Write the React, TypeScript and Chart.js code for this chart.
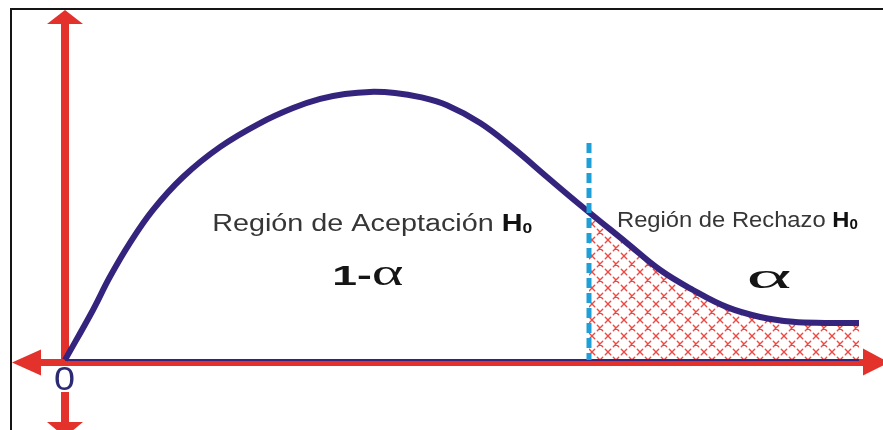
import { useEffect, useRef } from "react";
import { Chart, registerables } from "chart.js";

Chart.register(...registerables);

// ---- data ----
const curveX = [0, 3.5, 5.6, 8.1, 11, 14.75, 19.4, 24.4, 28.5, 31.9, 35, 38.1, 41.25, 44.4, 47.75, 51.9, 56, 60.25, 64.4, 70.25, 74.4, 78.5, 82.75, 86.9, 91, 95, 99.25];
const curveY = [0, 14.3, 23.7, 33.4, 42.9, 52.3, 60.9, 67.7, 72, 74.6, 76, 76.6, 76.3, 75.1, 72.8, 67.7, 60.6, 52.3, 44.3, 33.4, 25.7, 20, 15.1, 12.3, 10.9, 10.6, 10.6];
const criticalX = 65.5;
const criticalY = 42.1;
const criticalTop = 62;
const baselineEnd = 99.25;

const acceptLabel = "Región de Aceptación ";
const rejectLabel = "Región de Rechazo ";
const hypothesis = "H";
const hypothesisSub = "0";
const acceptProb = "1-";
const alphaSymbol = "α";
const originLabel = "0";

// ---- styles ----
const RED = "#e3312b";
const PURPLE = "#35247d";
const BLUE = "#1e9fd8";
const TEXT = "#363636";
const SANS = "'Liberation Sans', Arial, sans-serif";
const SERIF = "'Liberation Serif', 'Times New Roman', serif";

type Part = { text: string; font: string; color: string; dy?: number };

function drawFitted(ctx: CanvasRenderingContext2D, parts: Part[], left: number, right: number, baseline: number) {
  let total = 0;
  for (const p of parts) {
    ctx.font = p.font;
    total += ctx.measureText(p.text).width;
  }
  const sx = (right - left) / total;
  ctx.save();
  ctx.translate(left, baseline);
  ctx.scale(sx, 1);
  ctx.textAlign = "left";
  ctx.textBaseline = "alphabetic";
  let x = 0;
  for (const p of parts) {
    ctx.font = p.font;
    ctx.fillStyle = p.color;
    ctx.fillText(p.text, x, p.dy || 0);
    x += ctx.measureText(p.text).width;
  }
  ctx.restore();
}

function makeHatch(): CanvasPattern | string {
  const c = document.createElement("canvas");
  const s = 16;
  c.width = s;
  c.height = s;
  const g = c.getContext("2d");
  if (!g) return "rgba(230,60,50,0.3)";
  g.strokeStyle = "#ea4a42";
  g.lineWidth = 1.4;
  g.lineCap = "round";
  const a = 2.7;
  const mark = (cx: number, cy: number) => {
    g.beginPath();
    g.moveTo(cx - a, cy - a);
    g.lineTo(cx + a, cy + a);
    g.moveTo(cx + a, cy - a);
    g.lineTo(cx - a, cy + a);
    g.stroke();
  };
  mark(s / 2, s / 2);
  mark(0, 0);
  mark(s, 0);
  mark(0, s);
  mark(s, s);
  return g.createPattern(c, "repeat") || "rgba(230,60,50,0.3)";
}

const frameAndAxes = {
  id: "frameAndAxes",
  beforeDraw(chart: any) {
    const ctx = chart.ctx as CanvasRenderingContext2D;
    ctx.save();
    ctx.fillStyle = "#ffffff";
    ctx.fillRect(0, 0, chart.width, chart.height);
    ctx.restore();
  },
  beforeDatasetsDraw(chart: any) {
    const ctx = chart.ctx as CanvasRenderingContext2D;
    const xs = chart.scales.x;
    const ys = chart.scales.y;
    const ox = xs.getPixelForValue(0);
    const oy = ys.getPixelForValue(0) + 2.5;
    ctx.save();
    // frame
    ctx.strokeStyle = "#151515";
    ctx.lineWidth = 2;
    ctx.beginPath();
    ctx.moveTo(11, chart.height + 2);
    ctx.lineTo(11, 9);
    ctx.lineTo(chart.width + 2, 9);
    ctx.stroke();

    ctx.fillStyle = RED;
    // vertical shaft
    ctx.fillRect(ox - 4, 22, 8, 402);
    // up arrow
    ctx.beginPath();
    ctx.moveTo(ox, 10);
    ctx.lineTo(ox - 18, 24);
    ctx.lineTo(ox + 18, 24);
    ctx.closePath();
    ctx.fill();
    // down arrow
    ctx.beginPath();
    ctx.moveTo(ox - 18, 422);
    ctx.lineTo(ox + 18, 422);
    ctx.lineTo(ox, 437);
    ctx.closePath();
    ctx.fill();
    // horizontal shaft
    ctx.fillRect(38, oy - 3.5, 828, 7);
    // left arrow
    ctx.beginPath();
    ctx.moveTo(12, oy);
    ctx.lineTo(41, oy - 13);
    ctx.lineTo(41, oy + 13);
    ctx.closePath();
    ctx.fill();
    // right arrow
    ctx.beginPath();
    ctx.moveTo(863, oy - 14);
    ctx.lineTo(863, oy + 13);
    ctx.lineTo(889, oy);
    ctx.closePath();
    ctx.fill();
    ctx.restore();
  },
  afterDraw(chart: any) {
    const ctx = chart.ctx as CanvasRenderingContext2D;
    const xs = chart.scales.x;
    const ys = chart.scales.y;
    const px = (v: number) => xs.getPixelForValue(v);
    const py = (v: number) => ys.getPixelForValue(v);
    const ox = px(0);
    const oy = py(0);

    // origin label with white knock-out
    ctx.save();
    ctx.fillStyle = "#ffffff";
    ctx.fillRect(ox - 13, oy + 6, 27, 26);
    ctx.restore();
    drawFitted(ctx, [{ text: originLabel, font: `34px ${SANS}`, color: "#2c2a72" }], ox - 11, ox + 10, oy + 30);

    drawFitted(
      ctx,
      [
        { text: acceptLabel, font: `23px ${SANS}`, color: TEXT },
        { text: hypothesis, font: `bold 23px ${SANS}`, color: "#111" },
        { text: hypothesisSub, font: `bold 14px ${SANS}`, color: "#111", dy: 2 },
      ],
      px(18.4),
      px(58.4),
      py(36.9)
    );
    drawFitted(
      ctx,
      [
        { text: rejectLabel, font: `22px ${SANS}`, color: TEXT },
        { text: hypothesis, font: `bold 22px ${SANS}`, color: "#111" },
        { text: hypothesisSub, font: `bold 14px ${SANS}`, color: "#111", dy: 2 },
      ],
      px(69),
      px(99.1),
      py(38)
    );
    drawFitted(
      ctx,
      [
        { text: acceptProb, font: `bold 28px ${SANS}`, color: "#151515" },
        { text: alphaSymbol, font: `38px ${SERIF}`, color: "#151515" },
      ],
      px(33.4),
      px(42.3),
      py(21.4)
    );
    drawFitted(ctx, [{ text: alphaSymbol, font: `36px ${SERIF}`, color: "#151515" }], px(85.2), px(90.8), py(20.6));
  },
};

export default function App() {
  const ref = useRef<HTMLCanvasElement | null>(null);

  useEffect(() => {
    document.body.style.margin = "0";
    const canvas = ref.current;
    if (!canvas) return;
    const curve = curveX.map((x, i) => ({ x, y: curveY[i] }));
    const reject = [{ x: criticalX, y: criticalY }, ...curve.filter((p) => p.x > criticalX)];
    const chart = new Chart(canvas, {
      type: "line",
      data: {
        datasets: [
          {
            label: "crit",
            data: [
              { x: criticalX, y: criticalTop },
              { x: criticalX, y: 0 },
            ],
            borderColor: BLUE,
            borderWidth: 5,
            borderDash: [10, 5],
            borderCapStyle: "butt",
            pointRadius: 0,
            tension: 0,
            fill: false,
            clip: false,
          } as any,
          {
            label: "curve",
            data: curve,
            borderColor: PURPLE,
            borderWidth: 6,
            tension: 0.4,
            pointRadius: 0,
            fill: false,
            clip: false,
          } as any,
          {
            label: "base",
            data: [
              { x: 0, y: 0 },
              { x: baselineEnd, y: 0 },
            ],
            borderColor: PURPLE,
            borderWidth: 2,
            pointRadius: 0,
            tension: 0,
            fill: false,
            clip: false,
          } as any,
          {
            label: "reject",
            data: reject,
            borderColor: "transparent",
            borderWidth: 0,
            backgroundColor: makeHatch(),
            tension: 0.4,
            pointRadius: 0,
            fill: "origin",
            clip: false,
          } as any,
        ],
      },
      options: {
        responsive: false,
        maintainAspectRatio: false,
        animation: false,
        events: [],
        layout: { padding: { left: 65, right: 18, top: 10, bottom: 70 } },
        scales: {
          x: { type: "linear", min: 0, max: 100, display: false },
          y: { type: "linear", min: 0, max: 100, display: false },
        },
        plugins: {
          legend: { display: false },
          tooltip: { enabled: false },
        },
      },
      plugins: [frameAndAxes],
    });
    return () => chart.destroy();
  }, []);

  return (
    <div style={{ width: 883, height: 430 }}>
      <canvas ref={ref} width={883} height={430} style={{ width: 883, height: 430, display: "block" }} />
    </div>
  );
}
